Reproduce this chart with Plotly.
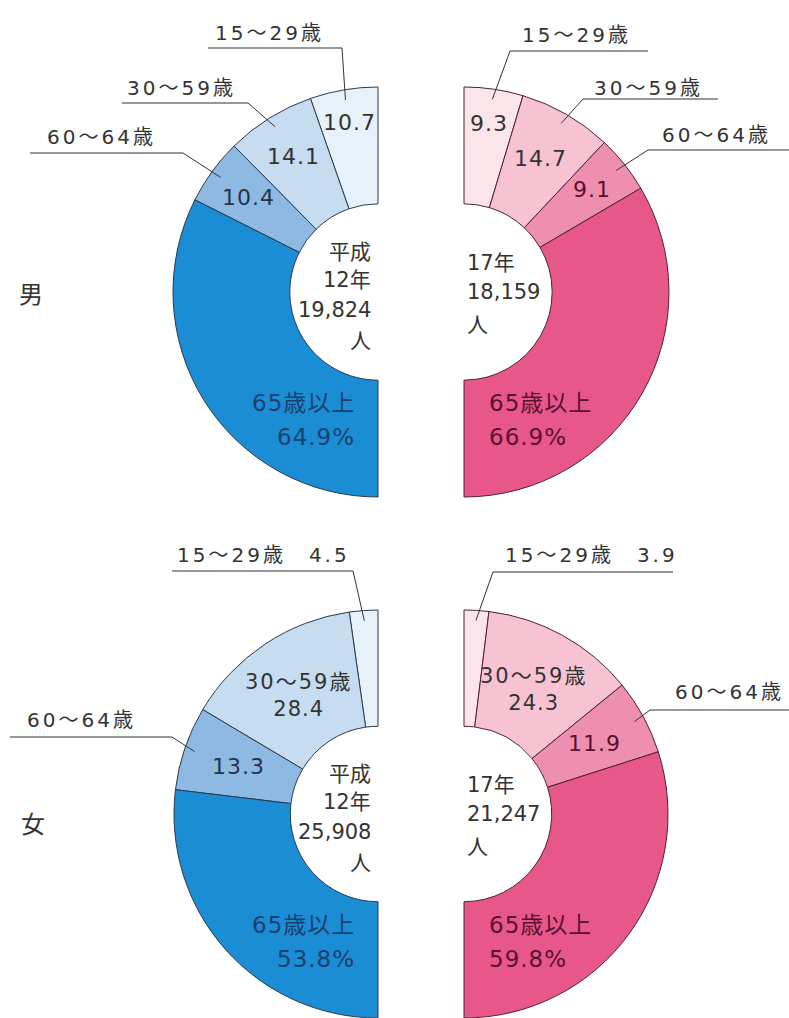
import math
import plotly.graph_objects as go

W, H = 789, 1018

# ---- data -------------------------------------------------------------
age_groups = ["15〜29歳", "30〜59歳", "60〜64歳", "65歳以上"]

male_h12 = [10.7, 14.1, 10.4, 64.9]      # 平成12年 男 (%)
male_h17 = [9.3, 14.7, 9.1, 66.9]        # 17年 男 (%)
female_h12 = [4.5, 28.4, 13.3, 53.8]     # 平成12年 女 (%)
female_h17 = [3.9, 24.3, 11.9, 59.8]     # 17年 女 (%)

year_labels = [["平成", "12年"], ["17年"]]
male_totals = ["19,824", "18,159"]
female_totals = ["25,908", "21,247"]
sex_labels = ["男", "女"]

# ---- styling ----------------------------------------------------------
blues = ["#e7f1fa", "#c5dcf1", "#8db9e2", "#1a8dd4"]
pinks = ["#fce4eb", "#f7c3d3", "#ee8fb0", "#e8578a"]
blue_edge = "#2c3a50"
pink_edge = "#4e2233"
txt = "#333333"
FONT = "DejaVu Sans, Noto Sans CJK JP, sans-serif"
HOLE = 0.43

charts = [
    dict(vals=male_h12, cx=378, cy=292, R=205, side=-1, colors=blues, edge=blue_edge,
         year=year_labels[0], total=male_totals[0], big_color="#1b3f70", mid_color="#24344c",
         inside={0: (0.84, False), 1: (0.78, False), 2: (0.78, False)},
         outside={0: (-165, -259, -244, -170, -36),
                  1: (-253, -204, -189, -256, -130),
                  2: (-333, -155, -139, -348, -195)},
         with_value=False),
    dict(vals=male_h17, cx=464, cy=292, R=205, side=1, colors=pinks, edge=pink_edge,
         year=year_labels[1], total=male_totals[1], big_color="#5a1030", mid_color="#5a1030",
         inside={0: (0.83, False), 1: (0.75, False), 2: (0.80, False)},
         outside={0: (56, -257, -241, 46, 184),
                  1: (128, -204, -193, 119, 254),
                  2: (196, -157, -142, 184, 325)},
         with_value=False),
    dict(vals=female_h12, cx=378, cy=814, R=204, side=-1, colors=blues, edge=blue_edge,
         year=year_labels[0], total=female_totals[0], big_color="#1b3f70", mid_color="#24344c",
         inside={1: (0.70, True), 2: (0.72, False)},
         outside={0: (-203, -259, -243, -206, -25),
                  2: (-353, -94, -77, -368, -206)},
         with_value=True),
    dict(vals=female_h17, cx=464, cy=814, R=204, side=1, colors=pinks, edge=pink_edge,
         year=year_labels[1], total=female_totals[1], big_color="#5a1030", mid_color="#5a1030",
         inside={1: (0.70, True), 2: (0.73, False)},
         outside={0: (39, -259, -242, 29, 209),
                  2: (209, -122, -104, 186, 325)},
         with_value=True),
]


def paper(x, y):
    return x / W, 1 - y / H


def mid_angle(vals, i):
    total = sum(vals)
    before = sum(vals[:i])
    return math.radians((before + vals[i] / 2) / total * 180.0)


def polar_px(c, theta, rho):
    return c["cx"] + c["side"] * rho * math.sin(theta), c["cy"] - rho * math.cos(theta)


def spaced(s, px):
    return f'<span style="letter-spacing:{px}px">{s}</span>'


fig = go.Figure()
annotations = []
shapes = []


def add_text(x, y, text, size, color=txt, xanchor="center", yanchor="middle", align="center"):
    px, py = paper(x, y)
    annotations.append(dict(x=px, y=py, xref="paper", yref="paper", text=text,
                            showarrow=False, xanchor=xanchor, yanchor=yanchor, align=align,
                            font=dict(family=FONT, size=size, color=color)))


def add_line(x0, y0, x1, y1):
    a, b = paper(x0, y0)
    c, d = paper(x1, y1)
    shapes.append(dict(type="line", xref="paper", yref="paper", x0=a, y0=b, x1=c, y1=d,
                       line=dict(color=txt, width=1), layer="above"))


def fmt(v):
    return f"{v:.1f}"


for c in charts:
    vals, cx, cy, R = c["vals"], c["cx"], c["cy"], c["R"]
    half = sum(vals)
    dom_x = [(cx - R) / W, (cx + R) / W]
    dom_y = [max(0.0, 1 - (cy + R) / H), min(1.0, 1 - (cy - R) / H)]
    # counterclockwise pies place the first slice just right of 12 o'clock,
    # so turn them back by that slice's angle
    rot = -vals[0] / half * 180.0 if c["side"] < 0 else 0
    fig.add_trace(go.Pie(
        values=vals + [half],
        labels=age_groups + ["_"],
        sort=False,
        direction="counterclockwise" if c["side"] < 0 else "clockwise",
        rotation=rot,
        hole=HOLE,
        textinfo="none",
        hoverinfo="none",
        showlegend=False,
        marker=dict(colors=c["colors"] + ["rgba(0,0,0,0)"],
                    line=dict(color=[c["edge"]] * 4 + ["rgba(0,0,0,0)"],
                              width=[1] * 4 + [0])),
        domain=dict(x=dom_x, y=dom_y),
    ))

    # values written inside the ring
    for i, (frac, with_name) in c["inside"].items():
        th = mid_angle(vals, i)
        x, y = polar_px(c, th, frac * R)
        color = c["mid_color"] if i == 2 else txt
        if with_name:
            label = spaced(age_groups[i], 2) + "<br>" + spaced(fmt(vals[i]), 1)
            add_text(x, y, label, 21, color=color)
        else:
            add_text(x, y, spaced(fmt(vals[i]), 1), 22, color=color)

    # callouts with underline and leader
    for i, (tx, ty, uy, ux0, ux1) in c["outside"].items():
        label = age_groups[i]
        if c["with_value"] and i == 0:
            label = label + "　" + fmt(vals[i])
        add_text(cx + tx, cy + ty, spaced(label, 3), 20, xanchor="left")
        add_line(cx + ux0, cy + uy, cx + ux1, cy + uy)
        sx = cx + (ux1 if c["side"] < 0 else ux0)
        th = mid_angle(vals, i)
        ex, ey = polar_px(c, th, 0.95 * R)
        add_line(sx, cy + uy, ex, ey)

    # 65歳以上 label
    big = spaced(fmt(vals[3]) + "%", 1)
    name = spaced(age_groups[3], 1)
    if c["side"] < 0:
        add_text(cx - 21, cy + 111, name, 23, color=c["big_color"], xanchor="right")
        add_text(cx - 21, cy + 145, big, 23, color=c["big_color"], xanchor="right")
    else:
        add_text(cx + 23, cy + 111, name, 23, color=c["big_color"], xanchor="left")
        add_text(cx + 23, cy + 145, big, 23, color=c["big_color"], xanchor="left")

    # centre text: year, total, 人
    lines = c["year"] + [c["total"], "人"]
    if c["side"] < 0:
        ys = [-40, -12, 18, 49]
        for s, dy in zip(lines, ys):
            add_text(cx - 5, cy + dy, s, 21, xanchor="right")
    else:
        ys = [-29, 0, 33]
        for s, dy in zip(lines, ys):
            add_text(cx + 1, cy + dy, s, 21, xanchor="left")

add_text(31, 295, sex_labels[0], 24)
add_text(33, 825, sex_labels[1], 24)

fig.update_layout(
    width=W, height=H,
    margin=dict(l=0, r=0, t=0, b=0),
    paper_bgcolor="white",
    plot_bgcolor="white",
    annotations=annotations,
    shapes=shapes,
    xaxis=dict(visible=False),
    yaxis=dict(visible=False),
)

fig.write_html("out.html")
